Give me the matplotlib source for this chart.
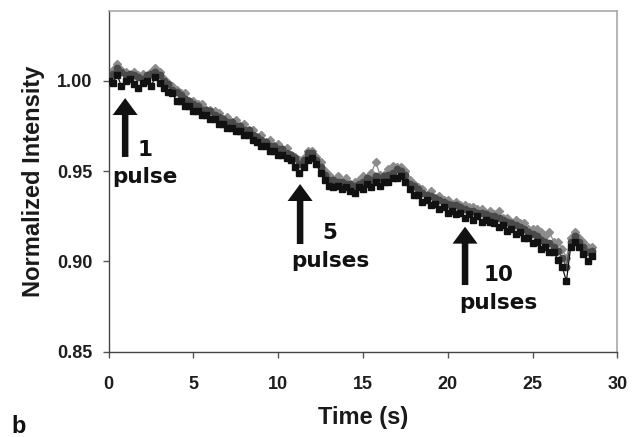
import numpy as np
import matplotlib
matplotlib.use("Agg")
import matplotlib.pyplot as plt
from matplotlib.patches import FancyArrowPatch

# ---- data ----
time_step = 0.25
n_points = 115
time_s = np.arange(n_points) * time_step

series_black = [
    1.000, 0.999, 1.003, 0.997, 1.000, 1.001, 0.998, 0.996, 0.999, 1.000, 0.997, 1.002,
    0.999, 0.996, 0.994, 0.993, 0.989, 0.989, 0.986, 0.986, 0.983, 0.983, 0.981, 0.981,
    0.979, 0.979, 0.976, 0.976, 0.974, 0.974, 0.972, 0.972, 0.970, 0.970, 0.967, 0.966,
    0.964, 0.964, 0.961, 0.961, 0.959, 0.959, 0.957, 0.956, 0.952, 0.949, 0.952, 0.956,
    0.957, 0.954, 0.949, 0.945, 0.942, 0.941, 0.942, 0.940, 0.941, 0.939, 0.938, 0.941,
    0.940, 0.943, 0.941, 0.944, 0.942, 0.944, 0.944, 0.946, 0.946, 0.947, 0.944, 0.940,
    0.937, 0.937, 0.933, 0.934, 0.931, 0.932, 0.929, 0.930, 0.927, 0.928, 0.926, 0.927,
    0.924, 0.926, 0.923, 0.925, 0.922, 0.923, 0.922, 0.921, 0.919, 0.920, 0.917, 0.918,
    0.915, 0.916, 0.913, 0.913, 0.910, 0.911, 0.907, 0.908, 0.905, 0.905, 0.901, 0.897,
    0.889, 0.908, 0.911, 0.908, 0.904, 0.900, 0.903,
]
series_darkgray = [
    1.001, 1.004, 1.007, 1.005, 1.003, 1.004, 1.003, 1.002, 1.001, 1.003, 1.004, 1.005,
    1.003, 1.000, 0.998, 0.995, 0.994, 0.992, 0.990, 0.989, 0.987, 0.986, 0.984, 0.984,
    0.983, 0.981, 0.980, 0.979, 0.977, 0.977, 0.975, 0.975, 0.973, 0.973, 0.970, 0.969,
    0.967, 0.966, 0.964, 0.964, 0.962, 0.962, 0.960, 0.959, 0.957, 0.954, 0.956, 0.960,
    0.960, 0.956, 0.952, 0.948, 0.945, 0.945, 0.944, 0.944, 0.943, 0.943, 0.942, 0.943,
    0.944, 0.946, 0.945, 0.947, 0.946, 0.947, 0.948, 0.949, 0.951, 0.950, 0.948, 0.943,
    0.942, 0.940, 0.938, 0.937, 0.936, 0.935, 0.934, 0.933, 0.932, 0.931, 0.931, 0.930,
    0.929, 0.928, 0.928, 0.927, 0.927, 0.926, 0.925, 0.925, 0.924, 0.923, 0.922, 0.921,
    0.920, 0.919, 0.918, 0.916, 0.915, 0.914, 0.912, 0.911, 0.910, 0.908, 0.906, 0.902,
    0.897, 0.911, 0.914, 0.911, 0.908, 0.905, 0.906,
]
series_lightgray = [
    1.001, 1.006, 1.009, 1.006, 1.005, 1.003, 1.005, 1.003, 1.004, 1.002, 1.005, 1.007,
    1.005, 1.001, 0.999, 0.997, 0.995, 0.993, 0.993, 0.989, 0.989, 0.987, 0.987, 0.984,
    0.984, 0.983, 0.982, 0.979, 0.980, 0.977, 0.978, 0.975, 0.976, 0.973, 0.973, 0.969,
    0.970, 0.966, 0.967, 0.964, 0.965, 0.962, 0.963, 0.959, 0.958, 0.956, 0.957, 0.961,
    0.961, 0.958, 0.955, 0.950, 0.948, 0.945, 0.947, 0.944, 0.946, 0.943, 0.944, 0.945,
    0.947, 0.946, 0.949, 0.955, 0.948, 0.948, 0.951, 0.953, 0.952, 0.952, 0.950, 0.945,
    0.943, 0.941, 0.940, 0.937, 0.939, 0.935, 0.936, 0.934, 0.934, 0.932, 0.933, 0.931,
    0.931, 0.930, 0.930, 0.929, 0.929, 0.927, 0.928, 0.926, 0.928, 0.924, 0.924, 0.922,
    0.923, 0.921, 0.921, 0.918, 0.918, 0.918, 0.916, 0.914, 0.916, 0.911, 0.911, 0.907,
    0.902, 0.913, 0.916, 0.913, 0.911, 0.908, 0.908,
]

pulse_numbers = ["1", "5", "10"]
pulse_words = ["pulse", "pulses", "pulses"]
pulse_times = [0.97, 11.29, 21.02]
x_ticks = [0, 5, 10, 15, 20, 25, 30]
y_ticks = [0.85, 0.90, 0.95, 1.00]

# ---- figure ----
fig = plt.figure(figsize=(6.41, 4.37), dpi=100)
ax = fig.add_axes([0.1696, 0.1952, 0.7934, 0.7796])

ax.plot(time_s, series_lightgray, color="#8c8c8c", lw=0.9, marker="D",
        ms=4.0, mfc="#8c8c8c", mec="#8c8c8c", zorder=2)
ax.plot(time_s, series_darkgray, color="#4a4a4a", lw=0.9, marker="o",
        ms=4.6, mfc="#4a4a4a", mec="#4a4a4a", zorder=3)
ax.plot(time_s, series_black, color="#111111", lw=0.9, marker="s",
        ms=4.3, mfc="#111111", mec="#111111", zorder=4)

ax.set_xlim(0, 30)
ax.set_ylim(0.85, 1.0386)
ax.set_xticks(x_ticks)
ax.set_yticks(y_ticks)
ax.set_xticklabels([str(v) for v in x_ticks])
ax.set_yticklabels([f"{v:.2f}" for v in y_ticks])

for lab in ax.get_xticklabels() + ax.get_yticklabels():
    lab.set_fontfamily("Liberation Sans")
    lab.set_fontweight("bold")
    lab.set_fontsize(13)
    lab.set_color("#1e1e1e")

ax.tick_params(axis="both", direction="out", length=4.5, width=1,
               color="#555555")
ax.tick_params(axis="x", pad=13)
ax.tick_params(axis="y", pad=7)

for side in ("left", "bottom"):
    ax.spines[side].set_color("#444444")
    ax.spines[side].set_linewidth(1.0)
for side in ("top", "right"):
    ax.spines[side].set_color("#a8a8a8")
    ax.spines[side].set_linewidth(1.2)

label_font = dict(family="Liberation Sans", weight="bold", size=17, color="#1a1a1a")
ax.set_xlabel("Time (s)", va="center", **label_font)
ax.xaxis.set_label_coords(0.5, -0.1946)
ax.set_ylabel("Normalized Intensity", va="center", **label_font)
ax.yaxis.set_label_coords(-0.148, 0.5)

# arrows and annotations
arrow_tops = [0.9904, 0.9428, 0.9192]
arrow_bottoms = [0.9578, 0.9096, 0.8869]
num_pos = [(2.14, 0.9616), (13.06, 0.9157), (22.99, 0.8925)]
word_pos = [(2.14, 0.9467), (13.06, 0.9004), (22.99, 0.8770)]
ann_font = dict(family="DejaVu Sans", weight="bold", size=15.5, color="#111111")
for num, word, t, top, bot, npos, wpos in zip(pulse_numbers, pulse_words, pulse_times,
                                              arrow_tops, arrow_bottoms, num_pos, word_pos):
    arr = FancyArrowPatch((t, bot), (t, top),
                          arrowstyle="simple,head_length=1.22,head_width=1.8,tail_width=0.47",
                          mutation_scale=10, color="#111111", lw=0,
                          shrinkA=0, shrinkB=0, zorder=5)
    ax.add_patch(arr)
    ax.text(npos[0], npos[1], num, ha="center", va="center", **ann_font)
    ax.text(wpos[0], wpos[1], word, ha="center", va="center", **ann_font)

fig.text(0.018, 0.024, "b", ha="left", va="center", family="Liberation Sans",
         weight="bold", size=17, color="#111111")

fig.savefig("out.png", dpi=100)
